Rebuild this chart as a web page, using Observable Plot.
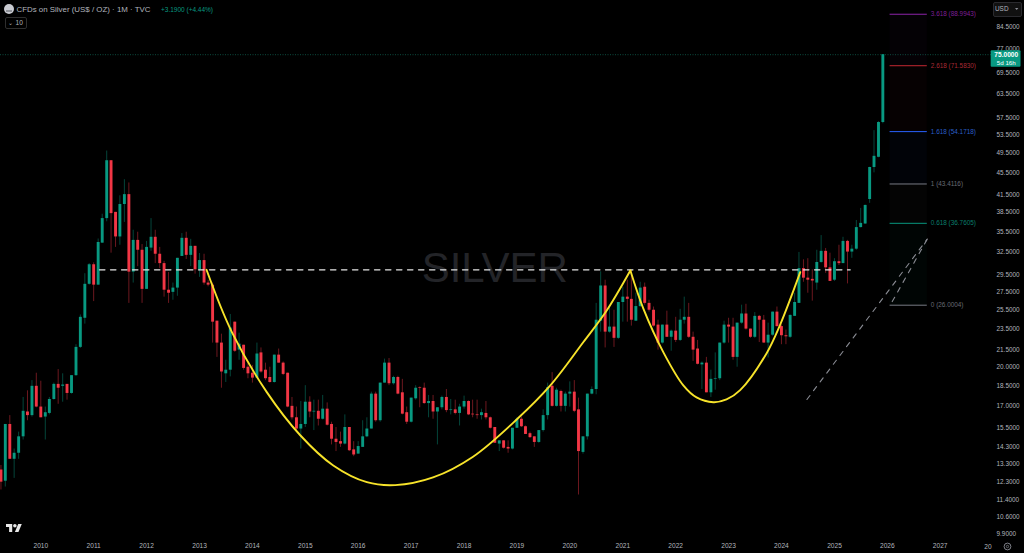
<!DOCTYPE html>
<html><head><meta charset="utf-8">
<script src="https://cdn.jsdelivr.net/npm/d3@7"></script>
<script src="https://cdn.jsdelivr.net/npm/@observablehq/plot@0.6"></script>
<style>
html,body{margin:0;padding:0;background:#000;overflow:hidden}
#wrap{position:relative;width:1024px;height:553px;font-family:"Liberation Sans",Arial,sans-serif}
.o{position:absolute;white-space:nowrap}
</style></head><body><div id="wrap"></div>
<script>
// monthly candles, April 2009 to December 2025
const firstYear = 2009, firstMonth = 3;
const opens = [
12.95,12.35,15.7,13.55,13.9,14.9,16.55,16.3,18.45,
16.9,16.2,16.45,17.45,18.6,18.45,18.6,17.9,19.3,21.75,24.6,28.4,
30.85,28.3,33.8,37.5,47.9,38.5,34.7,39.8,41.5,29.9,34.2,32.8,
27.8,33.1,34.65,32.25,31.0,27.7,27.45,27.95,31.95,34.5,32.1,33.35,
30.2,31.4,28.55,28.3,24.3,22.15,19.45,19.75,24.2,21.5,21.95,20.0,
19.5,19.1,21.25,19.75,19.15,18.75,21.05,20.35,19.5,16.95,16.15,15.4,
15.7,17.25,16.55,16.6,16.05,16.75,15.7,14.75,14.6,14.45,15.5,14.1,
13.85,14.25,14.9,15.4,17.85,15.95,18.7,20.35,18.65,19.15,17.95,16.5,
15.85,17.5,18.35,18.3,17.15,17.3,16.55,16.85,17.6,16.65,16.7,16.45,
16.9,17.3,16.4,16.35,16.3,16.45,16.15,15.5,14.45,14.65,14.25,14.15,
15.45,16.05,15.55,15.1,14.9,14.55,15.3,16.3,18.45,16.95,18.05,16.95,
17.85,18.0,16.7,13.95,14.9,17.85,18.2,24.3,28.2,23.2,23.7,22.6,
26.3,26.9,26.65,24.3,25.85,28.05,26.2,25.45,23.9,22.15,23.9,22.7,
23.3,22.4,24.4,24.7,22.7,21.6,20.2,20.35,17.95,19.0,19.05,22.15,
23.9,23.7,20.85,24.1,25.05,23.5,22.7,24.8,24.4,22.15,22.9,25.25,
23.75,22.85,22.7,24.8,26.2,30.35,29.15,29.0,28.55,31.15,32.65,30.45,
28.9,31.25,31.0,34.05,32.55,32.95,36.1,36.65,40.65,46.55,48.6,56.3];
const closes = [
12.3,15.7,13.55,13.9,14.9,16.6,16.3,18.45,16.9,
16.15,16.5,17.45,18.6,18.3,18.55,17.9,19.3,21.75,24.7,28.4,30.85,
28.3,33.9,37.5,47.9,38.3,34.7,39.8,41.5,29.9,34.2,32.8,27.8,
33.2,34.65,32.25,31.0,27.7,27.35,27.95,31.7,34.5,32.1,33.35,30.2,
31.4,28.55,28.3,24.2,22.15,19.6,19.75,23.6,21.4,22.05,19.9,19.45,
19.1,21.15,19.6,19.05,18.75,21.05,20.35,19.4,16.9,16.15,15.4,15.7,
17.25,16.55,16.6,16.05,16.75,15.65,14.75,14.55,14.45,15.5,14.05,13.8,
14.3,14.9,15.4,17.85,15.95,18.7,20.35,18.65,19.15,17.85,16.4,15.85,
17.55,18.3,18.3,17.15,17.3,16.55,16.85,17.6,16.65,16.7,16.45,16.9,
17.3,16.35,16.35,16.3,16.5,16.15,15.45,14.5,14.65,14.2,14.15,15.45,
16.05,15.55,15.05,14.85,14.55,15.3,16.3,18.35,16.95,18.15,16.95,17.85,
18.0,16.6,14.0,14.9,17.85,18.2,24.4,28.2,23.2,23.7,22.6,26.3,
26.9,26.65,24.4,25.85,27.95,26.2,25.45,23.8,22.15,23.9,22.7,23.3,
22.4,24.4,24.7,22.7,21.5,20.25,20.35,17.95,19.0,19.05,22.15,23.9,
23.7,20.85,24.1,25.05,23.5,22.7,24.8,24.4,22.15,22.9,25.25,23.75,
22.85,22.75,24.9,26.3,30.35,29.15,28.9,28.8,31.15,32.65,30.45,28.75,
31.25,31.0,34.05,32.55,32.95,36.1,36.75,39.65,46.55,48.8,56.3,75.0];
const highs = [
13.2,15.7,16.3,14.15,15.2,17.6,18.1,18.9,19.5,
18.85,16.9,17.6,18.7,19.8,19.45,18.6,19.3,22.0,24.95,29.7,31.0,
31.1,34.4,38.2,49.9,47.9,38.5,41.3,44.2,43.6,35.7,35.4,33.6,
34.05,37.5,35.7,33.2,31.3,29.85,28.55,31.7,35.2,35.4,34.35,33.35,
32.35,32.25,28.9,28.55,24.3,23.0,20.6,25.0,24.2,23.1,21.95,20.35,
20.15,22.15,21.7,20.35,20.0,21.05,21.6,20.45,19.5,17.6,16.9,17.3,
18.5,17.65,17.4,17.4,17.75,17.2,15.85,15.5,15.2,16.35,15.5,14.6,
14.6,15.95,16.15,18.0,18.0,18.7,20.7,20.75,19.25,19.25,19.0,16.9,
17.55,18.5,18.4,18.7,17.75,17.75,16.85,17.7,18.2,17.45,17.4,17.1,
17.7,17.35,17.4,17.4,16.75,17.3,16.2,15.5,14.65,14.65,14.65,15.45,
16.15,16.2,15.6,15.2,14.9,15.3,16.7,18.7,19.55,18.3,18.15,18.0,
18.8,18.9,17.55,14.9,17.85,18.4,26.2,29.95,28.9,25.8,25.45,26.3,
28.05,28.9,30.1,27.35,28.65,28.55,26.55,25.8,24.4,23.9,25.35,23.4,
24.7,25.55,26.9,26.2,23.2,22.4,20.45,20.85,19.75,21.25,22.15,24.3,
24.6,24.6,24.1,26.0,26.1,23.5,25.2,24.9,24.9,24.1,25.25,25.8,
23.9,23.4,24.95,27.35,32.5,31.5,31.65,30.2,32.8,34.9,33.05,32.4,
31.65,33.5,34.65,34.2,33.5,37.2,39.15,39.7,46.6,54.4,56.5,75.0];
const lows = [
11.9,12.05,13.55,12.5,13.55,14.7,15.95,16.2,16.85,
16.15,14.7,16.35,17.4,17.1,17.25,17.4,17.85,19.25,21.65,24.0,28.3,
26.4,28.3,33.8,37.0,32.4,33.2,33.5,36.9,26.2,28.55,30.6,26.2,
27.8,32.65,31.0,30.35,26.9,26.2,26.55,27.0,31.95,31.55,30.6,29.65,
29.25,28.3,28.1,22.15,20.85,18.3,18.75,19.2,21.3,20.6,19.75,19.05,
18.7,19.05,19.5,18.9,18.7,18.7,20.35,19.3,16.85,16.0,15.2,14.15,
15.5,16.15,15.3,15.6,16.0,15.6,14.4,14.0,14.25,14.4,14.0,13.7,
13.85,14.25,14.85,15.4,15.85,15.85,18.7,18.5,18.55,17.8,16.35,15.7,
15.8,17.4,16.85,17.1,16.15,16.05,14.4,16.7,16.5,16.35,16.35,15.6,
16.75,16.3,16.15,16.05,16.0,16.0,15.4,14.5,14.0,14.15,13.9,14.1,
15.45,15.5,15.05,14.8,14.25,14.5,15.2,16.0,16.9,16.9,16.55,16.55,
16.9,16.5,11.65,13.85,14.7,17.8,17.8,23.2,21.7,23.1,21.75,22.5,
24.2,24.2,23.8,24.3,25.75,26.0,25.25,23.7,21.5,22.05,22.7,21.4,
22.2,22.3,24.0,22.6,20.5,20.2,18.2,17.95,17.6,18.15,18.9,22.05,
22.15,20.6,20.0,24.0,23.4,22.6,22.6,22.2,22.15,20.8,22.8,23.7,
22.0,22.0,22.6,24.8,26.2,28.65,27.35,26.45,27.7,31.05,29.75,28.75,
28.75,30.75,31.0,28.45,31.7,32.8,36.05,36.6,40.0,45.5,48.5,56.0];

// drawn overlays
const neckPrice = 30.2;
const neckDates = ["2011-02-10","2025-04-20"];
const cupDates = ["2013-02-18","2013-08-12","2014-04-10","2014-11-27","2015-07-13","2016-03-01","2016-09-13","2017-06-01","2018-03-04","2019-01-01","2019-08-18","2020-04-04","2020-09-13","2021-02-22"];
const cupPrices = [30.2,23.2,18.0,15.0,13.2,12.3,12.15,12.55,13.7,16.05,18.5,22.25,25.45,30.1];
const handleDates = ["2021-02-22","2021-05-22","2021-10-10","2022-02-24","2022-05-25","2022-09-18","2022-12-18","2023-03-22","2023-09-22","2023-12-22","2024-05-10"];
const handlePrices = [30.1,25.65,21.25,18.5,17.6,17.25,17.45,18.15,21.25,23.9,29.9];
const fibRatios = ["3.618","2.618","1.618","1","0.618","0"];
const fibPrices = [88.9943,71.583,54.1718,43.4116,36.7605,26.0004];
const fibColors = ["#8e24aa","#c62833","#2962ff","#787b86","#089981","#787b86"];
const fibTextColors = ["#7d1f95","#a92a35","#2a5fc8","#686b75","#0a7f6c","#686b75"];
const fibStart = "2026-01-20", fibEnd = "2026-10-04";
const trendA = {dates:["2024-06-25","2026-10-04"], prices:[17.45,34.4]};
const trendB = {dates:["2026-02-04","2026-10-04"], prices:[26.4,34.4]};
const priceTicks = [84.5,77,69.5,63.5,57.5,53.5,49.5,45.5,41.5,38.5,35.5,32.5,29.5,27.5,25.5,23.5,21.5,20,18.5,17,15.5,14.3,13.3,12.3,11.4,10.6,9.9];
const yearTicks = d3.range(2010,2028);
const lastPrice = 75;

const D = s => new Date(s+"T00:00:00Z");
const candles = opens.map((o,i)=>({date:new Date(Date.UTC(firstYear,firstMonth+i,1)),o,c:closes[i],h:highs[i],l:lows[i]}));
const tone = d => d.c>=d.o ? "#089981" : "#f23645";
const linePts = (ds,ps)=>ds.map((d,i)=>({d:D(d),p:ps[i]}));
const fib = fibPrices.map((p,i)=>({p,ratio:fibRatios[i],col:fibColors[i],txt:fibTextColors[i],next:fibPrices[i+1]}));

const chart = Plot.plot({
  width:1024,height:553,
  marginLeft:0,marginTop:0,marginRight:30,marginBottom:13,
  style:{background:"#000",color:"#b2b5be",fontFamily:"Liberation Sans",fontSize:"6.6px",overflow:"hidden"},
  x:{type:"utc",domain:[D("2010-01-01"),D("2027-01-01")],range:[40.3,939.7]},
  y:{type:"log",domain:[9.9,84.5],range:[533,26]},
  marks:[
    Plot.text(["SILVER"],{x:()=>D("2018-08-01"),y:()=>30.3,text:d=>d,fontSize:42,fill:"#232428",fontFamily:"Liberation Sans"}),
    Plot.ruleY([lastPrice],{stroke:"#0c4a3e",strokeDasharray:"1,1.5"}),
    Plot.rect(fib.slice(0,-1),{x1:()=>D(fibStart),x2:()=>D(fibEnd),y1:"p",y2:"next",fill:"col",fillOpacity:0.03}),
    Plot.ruleX(candles,{x:"date",y1:"l",y2:"h",stroke:tone,strokeOpacity:0.45,strokeWidth:1}),
    Plot.ruleX(candles,{x:"date",y1:"o",y2:"c",stroke:tone,strokeWidth:2.9}),
    Plot.line(neckDates.map(d=>({d:D(d),p:neckPrice})),{x:"d",y:"p",stroke:"#e6e6e6",strokeWidth:1.2,strokeDasharray:"5.5,5.5"}),
    Plot.line(linePts(cupDates,cupPrices),{x:"d",y:"p",stroke:"#f7e32a",strokeWidth:1.9,curve:"catmull-rom"}),
    Plot.line(linePts(handleDates,handlePrices),{x:"d",y:"p",stroke:"#f7e32a",strokeWidth:1.9,curve:"catmull-rom"}),
    Plot.line(linePts(trendA.dates,trendA.prices),{x:"d",y:"p",stroke:"#8a8c94",strokeWidth:1.1,strokeDasharray:"5,6"}),
    Plot.line(linePts(trendB.dates,trendB.prices),{x:"d",y:"p",stroke:"#8a8c94",strokeWidth:1.1,strokeDasharray:"5,6"}),
    Plot.ruleY(fib,{y:"p",x1:()=>D(fibStart),x2:()=>D(fibEnd),stroke:"col",strokeWidth:1}),
    Plot.text(fib,{x:()=>D(fibEnd),y:"p",dx:3.5,text:d=>`${d.ratio} (${d.p.toFixed(4)})`,fill:"txt",textAnchor:"start",fontSize:6.4}),
    Plot.axisY(priceTicks,{anchor:"right",tickSize:0,tickPadding:2,tickFormat:d=>d.toFixed(4),label:null,fill:"#b2b5be",fontSize:6.4}),
    Plot.axisX(yearTicks.map(y=>D(y+"-01-01")),{anchor:"bottom",tickSize:0,tickPadding:3,tickFormat:d=>String(d.getUTCFullYear()),label:null,fill:"#b2b5be",fontSize:6.6}),
    Plot.text(["20"],{x:()=>D("2028-01-01"),y:()=>9.9,dx:-1.5,dy:13,text:d=>d,textAnchor:"end",fill:"#b2b5be",fontSize:6.6}),
    Plot.rect([0],{x1:()=>D("2027-12-19"),x2:()=>D("2028-07-12"),y1:()=>76.3,y2:()=>71.1,fill:"#089981",r:1}),
    Plot.text(["75.0000"],{x:()=>D("2028-04-01"),y:()=>lastPrice,text:d=>d,fill:"#fff",fontSize:6.6,fontWeight:"bold"}),
    Plot.text(["5d 16h"],{x:()=>D("2028-04-01"),y:()=>72.4,text:d=>d,fill:"#fff",fontSize:6.2})
  ]
});
const wrap=document.getElementById("wrap");
wrap.appendChild(chart);
chart.style.position="absolute";chart.style.left="0";chart.style.top="0";chart.style.display="block";
wrap.insertAdjacentHTML("beforeend",`
<svg class="o" style="left:4px;top:4px" width="10" height="10"><circle cx="5" cy="5" r="5" fill="#c9cbd1"/><path d="M2 6h6v2H2z" fill="#8d9097"/></svg>
<div class="o" style="left:16.5px;top:4.6px;font-size:7.9px;color:#b2b5be;line-height:9px">CFDs on Silver (US$ / OZ) · 1M · TVC</div>
<div class="o" style="left:161px;top:4.6px;font-size:6.5px;color:#089981;line-height:9px">+3.1900 (+4.44%)</div>
<div class="o" style="left:4.5px;top:16.5px;width:20px;height:10.5px;border:1px solid #2e2e2e;border-radius:2px;box-sizing:content-box"></div>
<div class="o" style="left:8px;top:17.5px;font-size:6.4px;color:#b2b5be;line-height:10px">⌄</div>
<div class="o" style="left:15.5px;top:17.5px;font-size:6.6px;color:#b2b5be;line-height:10px">10</div>
<div class="o" style="left:993px;top:2px;width:27px;height:12.5px;border:1px solid #2a2a2e;border-radius:2px;background:#111"></div>
<div class="o" style="left:995px;top:4px;font-size:6.4px;color:#b2b5be;line-height:9px">USD</div>
<svg class="o" style="left:1015px;top:8px" width="4" height="3"><path d="M0 0h3.4L1.7 2z" fill="#8a8c94"/></svg>
<svg class="o" style="left:6px;top:523px" width="16" height="9" viewBox="0 0 36 20"><path d="M14 20H7V9H0V2h14zM28 20h-8l7.5-18h8z" fill="#e8e8e8"/><circle cx="20" cy="6" r="4" fill="#e8e8e8"/></svg>
<svg class="o" style="left:1003px;top:542px" width="9" height="9"><circle cx="4.5" cy="4.5" r="3.4" fill="none" stroke="#8a8c94" stroke-width=".9"/><circle cx="4.5" cy="4.5" r="1.2" fill="none" stroke="#8a8c94" stroke-width=".7"/></svg>
`);
</script></body></html>
